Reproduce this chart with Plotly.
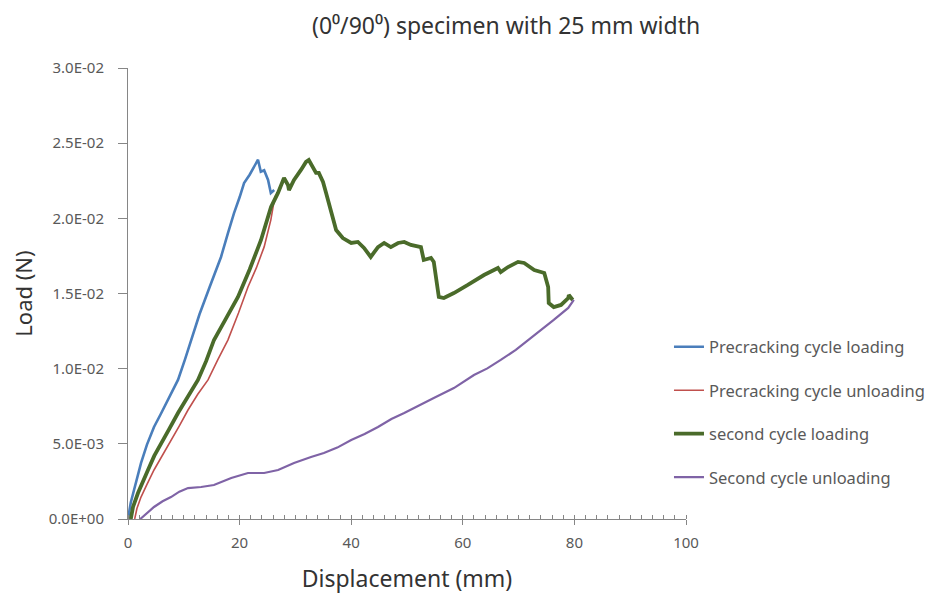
import plotly.graph_objects as go

# ---- data ----
pre_load_x = [0.0, 0.5, 1.08, 1.7, 2.33, 3.4, 4.66, 5.9, 7.17, 8.96, 10.2, 11.29, 12.8, 14.6, 16.67, 17.9, 19.0, 20.0, 20.8, 21.8, 22.6, 23.3, 23.8, 24.4, 25.1, 25.6, 26.2]
pre_load_y = [0.0, 0.0011, 0.00193, 0.00285, 0.00372, 0.00495, 0.00612, 0.0070, 0.00792, 0.00925, 0.0106, 0.0119, 0.0136, 0.0154, 0.01743, 0.0190, 0.02035, 0.0214, 0.02235, 0.0229, 0.02341, 0.0239, 0.0231, 0.0232, 0.02255, 0.02168, 0.02188]

pre_unload_x = [26.5, 26.2, 25.6, 24.4, 23.0, 21.5, 19.8, 17.9, 16.1, 14.34, 12.5, 10.75, 9.2, 7.7, 6.2, 4.66, 3.4, 2.33, 1.6, 1.2]
pre_unload_y = [0.02155, 0.0212, 0.0199, 0.0181, 0.0167, 0.01543, 0.0137, 0.0119, 0.0106, 0.00925, 0.0083, 0.00725, 0.0062, 0.00525, 0.0043, 0.00326, 0.0023, 0.00146, 0.0007, 0.0]

sec_load_x = [0.5, 0.9, 1.79, 2.6, 3.58, 4.7, 5.91, 7.4, 8.96, 10.7, 12.54, 14.0, 15.41, 17.5, 19.71, 21.8, 23.84, 25.63, 26.88, 27.96, 28.67, 28.85, 29.75, 31.0, 31.9, 32.4, 33.15, 33.7, 34.2, 34.95, 35.5, 36.4, 37.3, 38.5, 40.0, 41.2, 42.3, 43.5, 44.8, 45.9, 47.1, 48.4, 49.5, 50.7, 52.5, 53.0, 54.3, 54.8, 55.7, 56.6, 58.4, 60.9, 63.8, 66.3, 66.8, 68.1, 69.9, 71.0, 72.8, 74.6, 75.3, 75.4, 76.3, 77.6, 78.9, 79.0, 79.7]
sec_load_y = [0.0, 0.0008, 0.00173, 0.0025, 0.00326, 0.0042, 0.00506, 0.0060, 0.00705, 0.0081, 0.00925, 0.0105, 0.01191, 0.0133, 0.01477, 0.0166, 0.01856, 0.02075, 0.02169, 0.02268, 0.02222, 0.02188, 0.02255, 0.02322, 0.02375, 0.02388, 0.02335, 0.02302, 0.02302, 0.02242, 0.02169, 0.02036, 0.01922, 0.01869, 0.01836, 0.01843, 0.01803, 0.01743, 0.01809, 0.01836, 0.01809, 0.01836, 0.01843, 0.01823, 0.01809, 0.01723, 0.01736, 0.0171, 0.01477, 0.0147, 0.01503, 0.01557, 0.01623, 0.0167, 0.01643, 0.01676, 0.0171, 0.01703, 0.01656, 0.01636, 0.01543, 0.01437, 0.0141, 0.01424, 0.0147, 0.0149, 0.01457]

sec_unload_x = [79.9, 78.9, 76.3, 72.2, 69.5, 66.8, 64.4, 62.0, 58.4, 54.8, 52.1, 49.5, 47.2, 44.8, 42.4, 40.0, 37.5, 35.1, 32.8, 29.75, 26.9, 24.4, 21.5, 18.5, 15.4, 13.1, 10.75, 9.2, 7.7, 6.2, 4.66, 3.3, 2.2]
sec_unload_y = [0.01457, 0.01404, 0.01324, 0.01204, 0.01125, 0.01058, 0.01002, 0.00958, 0.00871, 0.00805, 0.00752, 0.00705, 0.00665, 0.00612, 0.00565, 0.00526, 0.00475, 0.00439, 0.00412, 0.00373, 0.00326, 0.00306, 0.00306, 0.00273, 0.00226, 0.00213, 0.00206, 0.00182, 0.00146, 0.00118, 0.0008, 0.00035, 0.0]

y_tickvals = [0.0, 0.005, 0.01, 0.015, 0.02, 0.025, 0.03]
y_ticktext = ["0.0E+00", "5.0E-03", "1.0E-02", "1.5E-02", "2.0E-02", "2.5E-02", "3.0E-02"]
x_tickvals = [0, 20, 40, 60, 80, 100]

series = [
    ("Precracking cycle loading", pre_load_x, pre_load_y, "#4A7EBB", 2.6),
    ("Precracking cycle unloading", pre_unload_x, pre_unload_y, "#C0504D", 1.6),
    ("second cycle loading", sec_load_x, sec_load_y, "#4A6B2A", 3.8),
    ("Second cycle unloading", sec_unload_x, sec_unload_y, "#7F63A6", 2.2),
]

FONT = "Noto Sans"
fig = go.Figure()
for i, (name, xs, ys, col, w) in enumerate(series):
    fig.add_trace(go.Scatter(x=xs, y=ys, mode="lines", name=name,
                             legendgroup=f"g{i}",
                             line=dict(color=col, width=w)))

fig.update_layout(
    width=939, height=599,
    margin=dict(l=120, r=261, t=60, b=88),
    paper_bgcolor="white", plot_bgcolor="white",
    font=dict(family=FONT, color="#595959"),
    showlegend=True,
    legend=dict(x=0.9695, xanchor="left", y=0.42, yanchor="top",
                font=dict(family=FONT, size=16.5, color="#595959"),
                tracegroupgap=19, bgcolor="rgba(0,0,0,0)"),
    annotations=[dict(text="(0\u2070/90\u2070) specimen with 25 mm width",
                      xref="paper", yref="paper", x=0.677, y=1.0, yshift=43,
                      xanchor="center", yanchor="middle", showarrow=False,
                      font=dict(family=FONT, size=23, color="#333333"))],
)
fig.update_xaxes(range=[0, 100], tickvals=x_tickvals, ticks="outside", ticklen=5,
                 tickcolor="#868686", showline=True, linecolor="#868686", linewidth=1,
                 showgrid=False, zeroline=False, ticklabelstandoff=5, automargin=False,
                 tickfont=dict(family=FONT, size=15, color="#595959"),
                 minor=dict(dtick=2, ticks="inside", ticklen=4, tickcolor="#868686", showgrid=False),
                 title=dict(text="Displacement (mm)", font=dict(family=FONT, size=23, color="#333333"), standoff=19))
fig.update_yaxes(range=[0, 0.03], tickvals=y_tickvals, ticktext=y_ticktext, ticks="outside", ticklen=9,
                 tickcolor="#868686", showline=True, linecolor="#868686", linewidth=1,
                 showgrid=False, zeroline=False, ticklabelstandoff=11, automargin=False,
                 tickfont=dict(family=FONT, size=15, color="#595959"),
                 title=dict(text="Load (N)", font=dict(family=FONT, size=22, color="#333333"), standoff=24))

fig.write_html("out.html")
